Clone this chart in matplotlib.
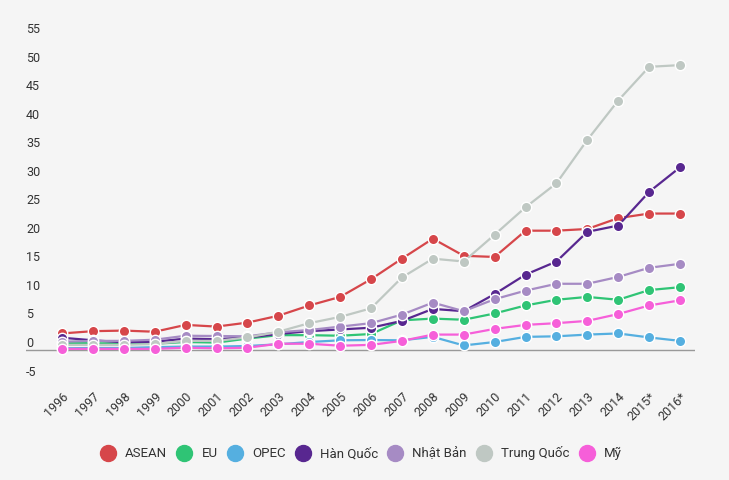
import matplotlib.pyplot as plt
import matplotlib.transforms as mtransforms
from matplotlib.lines import Line2D

plt.rcParams['font.family'] = ['Roboto', 'DejaVu Sans']

years = ['1996', '1997', '1998', '1999', '2000', '2001', '2002', '2003', '2004',
         '2005', '2006', '2007', '2008', '2009', '2010', '2011', '2012', '2013',
         '2014', '2015*', '2016*']

asean = [2.9, 3.3, 3.4, 3.2, 4.4, 4.1, 4.8, 6.0, 7.8, 9.3, 12.4, 16.0, 19.5,
         16.5, 16.3, 20.9, 20.9, 21.2, 23.1, 23.9, 23.9]
eu = [1.2, 1.2, 1.1, 1.1, 1.4, 1.3, 2.0, 2.6, 2.6, 2.5, 2.8, 5.2, 5.5,
      5.3, 6.4, 7.8, 8.8, 9.3, 8.8, 10.5, 11.0]
opec = [0.3, 0.35, 0.35, 0.5, 0.6, 0.6, 0.7, 1.0, 1.4, 1.7, 1.75, 1.7, 2.3,
        0.8, 1.4, 2.3, 2.4, 2.7, 2.9, 2.2, 1.6]
han_quoc = [2.15, 1.7, 1.35, 1.45, 2.0, 1.9, 2.2, 2.8, 3.3, 3.6, 3.9, 5.1, 7.2,
            6.8, 9.8, 13.2, 15.5, 20.7, 21.8, 27.7, 32.0]
nhat_ban = [1.45, 1.6, 1.6, 1.8, 2.5, 2.45, 2.4, 3.1, 3.5, 4.1, 4.7, 6.2, 8.3,
            6.8, 8.9, 10.4, 11.6, 11.6, 12.8, 14.4, 15.1]
trung_quoc = [0.9, 0.9, 0.9, 1.05, 1.6, 1.6, 2.2, 3.2, 4.7, 5.8, 7.3, 12.7, 16.0,
              15.5, 20.2, 25.0, 29.2, 36.8, 43.7, 49.6, 49.9]
my = [0.2, 0.2, 0.2, 0.2, 0.4, 0.3, 0.4, 1.1, 1.1, 0.75, 0.9, 1.6, 2.7,
      2.7, 3.7, 4.4, 4.7, 5.1, 6.3, 7.8, 8.7]

names = ['ASEAN', 'EU', 'OPEC', 'Hàn Quốc', 'Nhật Bản', 'Trung Quốc', 'Mỹ']
series = [asean, eu, opec, han_quoc, nhat_ban, trung_quoc, my]
colors = ['#d6464a', '#2fc475', '#55afe0', '#582790', '#a68bc4', '#bfc8c3', '#f65fd9']

y_ticks = [-5, 0, 5, 10, 15, 20, 25, 30, 35, 40, 45, 50, 55]

bg = '#f5f5f5'
fig = plt.figure(figsize=(7.29, 4.8), dpi=100, facecolor=bg)
ax = fig.add_axes([0.0357, 0.2054, 0.9177, 0.7434], facecolor=bg)

x = list(range(len(years)))
for vals, c in zip(series, colors):
    ax.plot(x, vals, color=c, lw=1.6, marker='o', ms=7.5,
            mfc=c, mec='white', mew=1.0, solid_capstyle='round')

ax.set_xlim(-1.165, 20.485)
ax.set_ylim(-5.5, 57)
ax.axhline(0, color='#999999', lw=1, zorder=0)

for s in ax.spines.values():
    s.set_visible(False)

# y labels sit just above their (invisible) grid lines
trans = mtransforms.blended_transform_factory(ax.transAxes, ax.transData)
for v in y_ticks:
    ax.text(0, v, str(v), transform=trans, ha='left', va='bottom',
            fontsize=9, color='#333333')
ax.set_yticks([])

ax.set_xticks(x)
ax.set_xticklabels(years, rotation=45, ha='right', va='top',
                   rotation_mode='anchor', fontsize=9, color='#333333')
ax.tick_params(axis='x', length=0, pad=6)

handles = [Line2D([], [], ls='none', marker='o', ms=11.5, mfc=c, mec=c)
           for c in colors]
fig.legend(handles, names, loc='center', bbox_to_anchor=(0.495, 0.056),
           ncol=7, frameon=False, fontsize=9.5, handletextpad=0.7,
           columnspacing=0.7, labelcolor='#333333', handlelength=1.2)

fig.savefig('out.png', dpi=100, facecolor=bg)
